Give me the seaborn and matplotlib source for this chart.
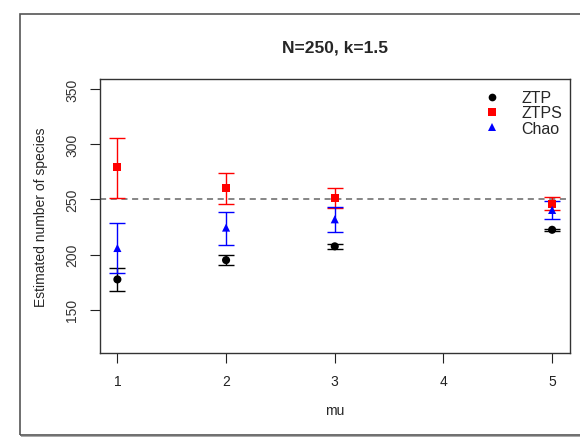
import numpy as np
import pandas as pd
import matplotlib
matplotlib.use("Agg")
import matplotlib.pyplot as plt
from matplotlib.patches import Rectangle
import seaborn as sns

# ---- data ----
mu = [1, 2, 3, 5]
methods = ["ZTP", "ZTPS", "Chao"]

ztp_est = [177.5, 195.0, 207.5, 222.5]
ztp_lo = [167.0, 190.5, 205.0, 221.5]
ztp_hi = [188.0, 199.5, 209.5, 223.5]

ztps_est = [279.5, 260.5, 251.5, 246.0]
ztps_lo = [251.0, 245.5, 242.5, 240.0]
ztps_hi = [306.0, 274.0, 260.5, 252.0]

chao_est = [206.0, 224.5, 232.0, 240.5]
chao_lo = [183.5, 209.0, 220.5, 232.0]
chao_hi = [229.0, 238.5, 243.0, 248.5]

true_N = 250
yticks = [150, 200, 250, 300, 350]
xticks = [1, 2, 3, 4, 5]

colors = {"ZTP": "black", "ZTPS": "red", "Chao": "blue"}
markers = {"ZTP": "o", "ZTPS": "s", "Chao": "^"}

df = pd.DataFrame({
    "mu": mu * 3,
    "est": ztp_est + ztps_est + chao_est,
    "lo": ztp_lo + ztps_lo + chao_lo,
    "hi": ztp_hi + ztps_hi + chao_hi,
    "method": ["ZTP"] * 4 + ["ZTPS"] * 4 + ["Chao"] * 4,
})

sns.set_style("white")
plt.rcParams["font.family"] = ["Liberation Sans", "DejaVu Sans"]

W, H = 580, 439
fig = plt.figure(figsize=(W / 100, H / 100), dpi=100)
ax = fig.add_axes([100 / W, 1 - 354 / H, 469.5 / W, 274 / H])

# outer frame (screenshot border), right side runs off the image
fig.patches.append(Rectangle((20 / W, 1 - 436 / H), 620 / W, 421 / H,
                             transform=fig.transFigure, fill=False,
                             edgecolor="#555555", linewidth=1.2))
fig.patches.append(Rectangle((21 / W, 1 - 438 / H), 620 / W, 1.5 / H,
                             transform=fig.transFigure, fill=True,
                             facecolor="#aaaaaa", edgecolor="none"))

ax.axhline(true_N, color="#666666", linestyle=(0, (4, 3)), linewidth=1.1, zorder=1)

for m in methods:
    d = df[df.method == m]
    ax.errorbar(d["mu"], d["est"],
                yerr=[d["est"] - d["lo"], d["hi"] - d["est"]],
                fmt="none", ecolor=colors[m], elinewidth=1.0,
                capsize=5.5, capthick=1.0, zorder=2)

sns.scatterplot(data=df, x="mu", y="est", hue="method", style="method",
                hue_order=methods, style_order=methods,
                palette=colors, markers=markers, s=34, linewidth=0,
                ax=ax, zorder=3)

ax.set_xlim(0.84, 5.16)
ax.set_ylim(110.8, 359.2)
ax.set_xticks(xticks)
ax.set_yticks(yticks)
ax.set_xticklabels([str(t) for t in xticks])
ax.set_yticklabels([str(t) for t in yticks], rotation=90, va="center")
ax.tick_params(axis="both", direction="out", length=7, width=0.8,
               colors="#222222", labelsize=10, pad=8, left=True, bottom=True)
ax.tick_params(axis="y", labelcolor="#333333")
for s in ax.spines.values():
    s.set_color("#333333")
    s.set_linewidth(1.0)

ax.set_xlabel("mu", fontsize=10, labelpad=11)
ax.set_ylabel("Estimated number of species", fontsize=10, labelpad=12)

fig.text(334.5 / W, 1 - 48 / H, "N=250, k=1.5", ha="center", va="center",
         fontsize=12.5, fontweight="bold")

leg = ax.legend(title=None, frameon=False, loc="upper right",
                bbox_to_anchor=(1.008, 1.0), fontsize=11.5,
                handletextpad=0.85, labelspacing=0.02, markerscale=0.95,
                borderaxespad=0.3)

fig.savefig("out.png", dpi=100)
